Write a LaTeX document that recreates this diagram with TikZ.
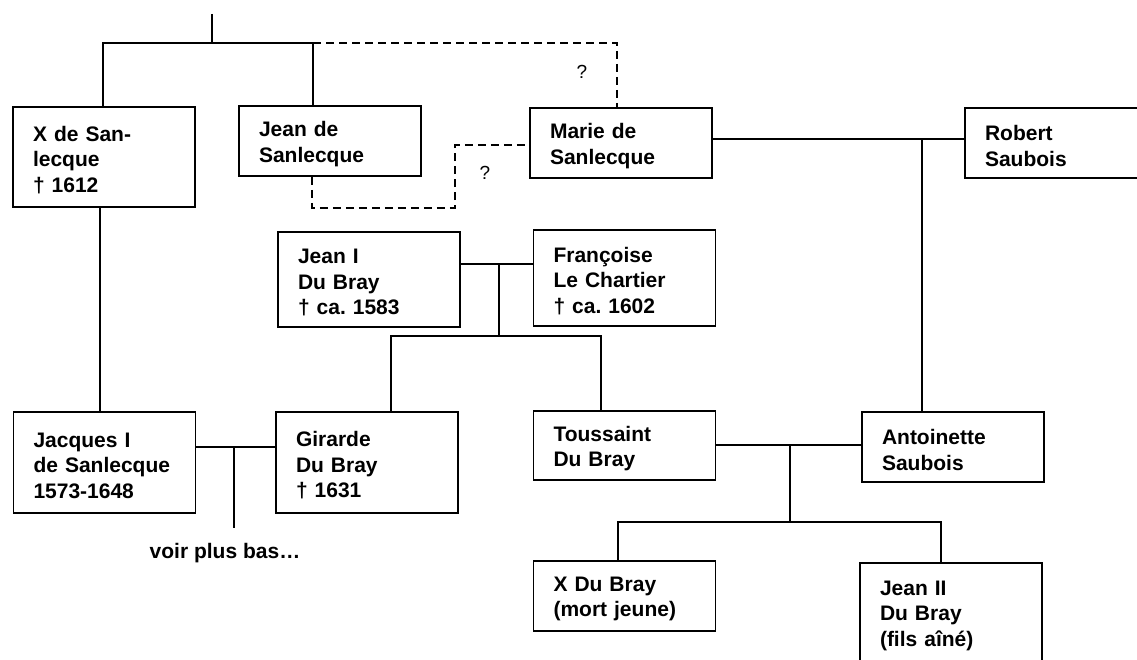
\documentclass[tikz,border=0pt]{standalone}
\usepackage{fontspec}
\setmainfont{Liberation Sans}
\usetikzlibrary{calc}
\frenchspacing
\begin{document}
\begin{tikzpicture}[x=1pt,y=-1pt,
  person/.style={draw, line width=1.8pt, inner xsep=20pt, inner ysep=0pt,
    text width=142pt, minimum width=182pt, align=left,
    execute at end node={\endgraf\vspace{-6pt}},
    font=\fontsize{21}{25.5}\selectfont\bfseries\frenchspacing},
  link/.style={line width=1.6pt},
  dsh/.style={line width=1.6pt, dash pattern=on 8pt off 5pt},
  qmark/.style={font=\fontsize{19}{22}\selectfont, inner sep=0pt},
  note/.style={font=\fontsize{21}{25}\selectfont\bfseries, inner sep=0pt}]
\useasboundingbox (0,0) rectangle (1137,660);
\clip (0,0) rectangle (1137,660);
% persons
\node[person, minimum height=100pt] (xs) at (104,157) {X de San-\\lecque\\† 1612};
\node[person, minimum height=70pt] (js) at (330,141) {Jean de\\Sanlecque};
\node[person, minimum height=70pt] (ms) at (621,143) {Marie de\\Sanlecque};
\node[person, minimum height=70pt] (rs) at (1056,143) {Robert\\Saubois};
\node[person, minimum height=95pt] (j1) at (369,279.5) {Jean I\\Du Bray\\† ca. 1583};
\node[person, minimum height=96pt] (fc) at (624.5,278) {Françoise\\Le Chartier\\† ca. 1602};
\node[person, minimum height=101pt] (jq) at (104.5,462.5) {Jacques I\\de Sanlecque\\1573-1648};
\node[person, minimum height=101pt] (gd) at (367,462.5) {Girarde\\Du Bray\\† 1631};
\node[person, minimum height=69pt] (td) at (624.5,445.5) {Toussaint\\Du Bray};
\node[person, minimum height=70pt] (as) at (953,447) {Antoinette\\Saubois};
\node[person, minimum height=70pt] (xd) at (624.5,596) {X Du Bray\\(mort jeune)};
\node[person, minimum height=99pt] (j2) at (951,612.5) {Jean II\\Du Bray\\(fils aîné)};
% labels
\node[qmark] (q1) at (582,72) {?};
\node[qmark] (q2) at (485,173) {?};
\node[note] (voir) at (225,553) {voir plus bas…};
% coordinates
\coordinate (t0) at (212,14);
\coordinate (t1) at (212,43);
\coordinate (jstop) at (313,43);
\coordinate (mstop) at (617,43);
\coordinate (d1) at (312,208);
\coordinate (d2) at (455,145);
\coordinate (mr) at (922,139);
\coordinate (jf) at (499,264);
\coordinate (jfb) at (499,336);
\coordinate (gdl) at (391,336);
\coordinate (tdl) at (601,336);
\coordinate (xsj) at (100,300);
\coordinate (jg) at (234,447);
\coordinate (jgb) at (234,528);
\coordinate (ta) at (790,445);
\coordinate (tab) at (790,522);
\coordinate (c1) at (618,522);
\coordinate (c2) at (941,522);
% connectors
\draw[link] (t0) -- (t1);
\draw[link] (xs.north -| 103,0) |- (jstop) -- (jstop |- js.north);
\draw[dsh] (jstop) -- (mstop) -- (mstop |- ms.north);
\draw[dsh] (d1 |- js.south) -- (d1) -| (d2) -- (d2 -| ms.west);
\draw[link] (ms.east |- mr) -- (rs.west |- mr);
\draw[link] (mr) -- (mr |- as.north);
\draw[link] (j1.east |- jf) -- (fc.west |- jf);
\draw[link] (jf) -- (jfb);
\draw[link] (gdl |- gd.north) -- (gdl) -- (tdl) -- (tdl |- td.north);
\draw[link] (xsj |- xs.south) -- (xsj |- jq.north);
\draw[link] (jq.east |- jg) -- (gd.west |- jg);
\draw[link] (jg) -- (jgb);
\draw[link] (td.east |- ta) -- (as.west |- ta);
\draw[link] (ta) -- (tab);
\draw[link] (c1 |- xd.north) -- (c1) -- (c2) -- (c2 |- j2.north);
\end{tikzpicture}
\end{document}
